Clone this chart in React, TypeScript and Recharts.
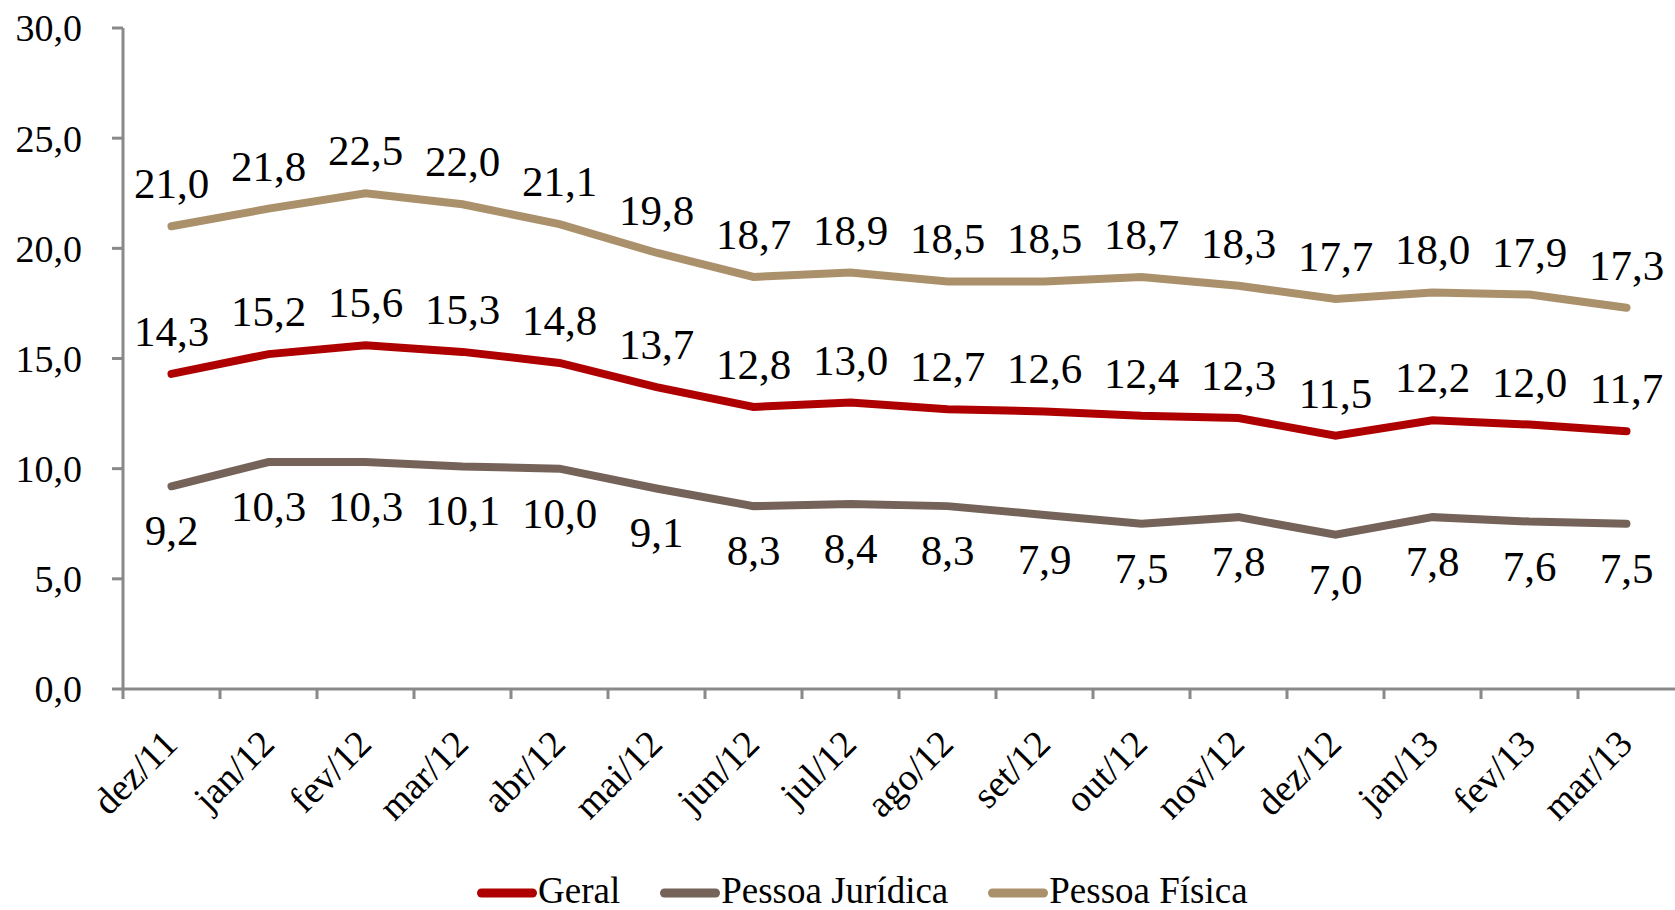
import React from 'react';
import { LineChart, Line, XAxis, YAxis, Legend, LabelList } from 'recharts';

const months = ['dez/11', 'jan/12', 'fev/12', 'mar/12', 'abr/12', 'mai/12', 'jun/12', 'jul/12', 'ago/12', 'set/12', 'out/12', 'nov/12', 'dez/12', 'jan/13', 'fev/13', 'mar/13'];
const geral = [14.3, 15.2, 15.6, 15.3, 14.8, 13.7, 12.8, 13.0, 12.7, 12.6, 12.4, 12.3, 11.5, 12.2, 12.0, 11.7];
const pessoaJuridica = [9.2, 10.3, 10.3, 10.1, 10.0, 9.1, 8.3, 8.4, 8.3, 7.9, 7.5, 7.8, 7.0, 7.8, 7.6, 7.5];
const pessoaFisica = [21.0, 21.8, 22.5, 22.0, 21.1, 19.8, 18.7, 18.9, 18.5, 18.5, 18.7, 18.3, 17.7, 18.0, 17.9, 17.3];
const yTicks = [0, 5, 10, 15, 20, 25, 30];
const seriesNames = ['Geral', 'Pessoa Jurídica', 'Pessoa Física'];
const seriesColors = ['#AE0000', '#75635A', '#AB916B'];

const data = months.map((m, i) => ({
  month: m,
  geral: geral[i],
  pj: pessoaJuridica[i],
  pf: pessoaFisica[i],
}));

const FONT = "'Liberation Serif', 'Times New Roman', serif";
const AXIS = '#898989';
const fmt = (v: number) => v.toFixed(1).replace('.', ',');

const XTick = (props: any) => {
  const { x, y, payload, width, visibleTicksCount } = props;
  const half = payload && payload.offset ? payload.offset : width / visibleTicksCount / 2;
  const tx = x + 8;
  const ty = y + 47;
  return (
    <g>
      <line x1={x - half} x2={x - half} y1={y - 10} y2={y} stroke={AXIS} strokeWidth={3} />
      <text
        x={tx}
        y={ty}
        textAnchor="end"
        fontSize={38}
        fontFamily={FONT}
        fill="#000"
        transform={`rotate(-45, ${tx}, ${ty})`}
      >
        {payload.value}
      </text>
    </g>
  );
};

const makeLabel = (dy: number) => (props: any) => {
  const { x, y, value } = props;
  return (
    <text x={x} y={y + dy} textAnchor="middle" fontSize={43} fontFamily={FONT} fill="#000">
      {fmt(value)}
    </text>
  );
};

const LegendContent = () => (
  <div style={{ display: 'flex', alignItems: 'center', fontFamily: FONT, fontSize: 37, lineHeight: 'normal', color: '#000', whiteSpace: 'nowrap' }}>
    {seriesNames.map((n, i) => (
      <div key={n} style={{ display: 'flex', alignItems: 'center', marginRight: 40 }}>
        <svg width={60} height={12} style={{ display: 'block', position: 'relative', top: 2 }}>
          <line x1={4.5} y1={6} x2={55.5} y2={6} stroke={seriesColors[i]} strokeWidth={9} strokeLinecap="round" />
        </svg>
        <span style={{ marginLeft: 1 }}>{n}</span>
      </div>
    ))}
  </div>
);

export default function App() {
  return (
    <div style={{ position: 'absolute', left: 0, top: 0, background: '#fff' }}>
      <LineChart width={1675} height={910} data={data} margin={{ top: 28, right: 0, left: 0, bottom: 71 }}>
        <XAxis
          dataKey="month"
          scale="band"
          height={150}
          axisLine={{ stroke: AXIS, strokeWidth: 3 }}
          tickLine={false}
          tickSize={10}
          tickMargin={0}
          interval={0}
          tick={<XTick />}
        />
        <YAxis
          width={123}
          domain={[0, 30]}
          ticks={yTicks}
          interval={0}
          tickFormatter={fmt}
          axisLine={{ stroke: AXIS, strokeWidth: 3 }}
          tickLine={{ stroke: AXIS, strokeWidth: 3 }}
          tickSize={11}
          tickMargin={30}
          tick={{ fontSize: 38, fontFamily: FONT, fill: '#000' }}
        />
        <Legend
          verticalAlign="middle"
          align="center"
          layout="horizontal"
          wrapperStyle={{ left: 477, top: 869, width: 900 }}
          content={<LegendContent />}
        />
        <Line type="linear" dataKey="pf" name={seriesNames[2]} stroke={seriesColors[2]} strokeWidth={8} dot={false} strokeLinecap="round" isAnimationActive={false}>
          <LabelList dataKey="pf" content={makeLabel(-28)} />
        </Line>
        <Line type="linear" dataKey="pj" name={seriesNames[1]} stroke={seriesColors[1]} strokeWidth={8} dot={false} strokeLinecap="round" isAnimationActive={false}>
          <LabelList dataKey="pj" content={makeLabel(59)} />
        </Line>
        <Line type="linear" dataKey="geral" name={seriesNames[0]} stroke={seriesColors[0]} strokeWidth={8} dot={false} strokeLinecap="round" isAnimationActive={false}>
          <LabelList dataKey="geral" content={makeLabel(-28)} />
        </Line>
      </LineChart>
    </div>
  );
}
